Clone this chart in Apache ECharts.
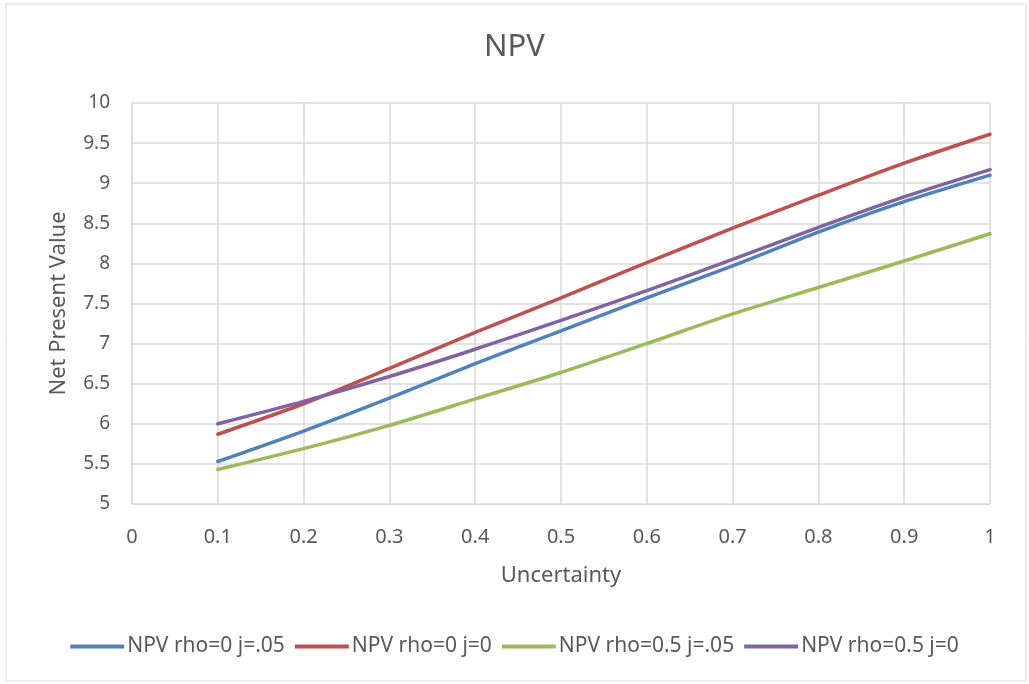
<!DOCTYPE html>
<html>
<head>
<meta charset="utf-8">
<script src="https://cdn.jsdelivr.net/npm/echarts@6/dist/echarts.min.js"></script>
<style>
html,body{margin:0;padding:0;background:#fff;}
#chart{width:1029px;height:684px;}
</style>
</head>
<body>
<div id="chart"></div>
<script>
var uncertainty = [0.1, 0.2, 0.3, 0.4, 0.5, 0.6, 0.7, 0.8, 0.9, 1.0];
var npvRho0J05 = [5.53, 5.91, 6.32, 6.75, 7.16, 7.57, 7.97, 8.39, 8.77, 9.10];
var npvRho0J0 = [5.87, 6.25, 6.69, 7.14, 7.57, 8.01, 8.44, 8.85, 9.25, 9.61];
var npvRho05J05 = [5.43, 5.69, 5.98, 6.31, 6.64, 7.00, 7.37, 7.70, 8.03, 8.37];
var npvRho05J0 = [6.00, 6.28, 6.59, 6.93, 7.29, 7.66, 8.05, 8.45, 8.83, 9.17];
var seriesNames = ['NPV rho=0 j=.05', 'NPV rho=0 j=0', 'NPV rho=0.5 j=.05', 'NPV rho=0.5 j=0'];
var seriesColors = ['#4F81BD', '#C0504D', '#9BBB59', '#8064A2'];
var seriesValues = [npvRho0J05, npvRho0J0, npvRho05J05, npvRho05J0];

var FONT = '"Noto Sans", "Open Sans", sans-serif';
var TXT = '#595959';

var chart = echarts.init(document.getElementById('chart'), null, {renderer: 'canvas'});
var series = seriesNames.map(function (name, i) {
  return {
    name: name,
    type: 'line',
    smooth: 0.25,
    showSymbol: false,
    symbol: 'none',
    lineStyle: {width: 3.5, color: seriesColors[i], cap: 'round'},
    itemStyle: {color: seriesColors[i]},
    data: uncertainty.map(function (x, k) { return [x, seriesValues[i][k]]; })
  };
});

chart.setOption({
  animation: false,
  backgroundColor: '#fff',
  graphic: [{
    type: 'rect',
    shape: {x: 6, y: 4, width: 1020, height: 677},
    style: {fill: 'none', stroke: '#d9d9d9', lineWidth: 1},
    silent: true
  }],
  title: {
    text: 'NPV',
    left: 'center',
    top: 27,
    textStyle: {fontFamily: FONT, fontSize: 31, fontWeight: 'normal', color: TXT}
  },
  legend: {
    bottom: 22,
    left: 'center',
    icon: 'rect',
    itemWidth: 54,
    itemHeight: 4,
    itemGap: 10,
    textStyle: {fontFamily: FONT, fontSize: 21, color: TXT, padding: [0, 0, 0, -2]},
    data: seriesNames
  },
  grid: {left: 132, right: 39, top: 103, bottom: 180, containLabel: false},
  xAxis: {
    type: 'value',
    min: 0, max: 1, interval: 0.1,
    name: 'Uncertainty',
    nameLocation: 'middle',
    nameGap: 61,
    nameTextStyle: {fontFamily: FONT, fontSize: 22, color: TXT},
    axisLine: {show: true, lineStyle: {color: '#d9d9d9', width: 1}},
    axisTick: {show: false},
    axisLabel: {fontFamily: FONT, fontSize: 20, color: TXT, margin: 23,
      formatter: function (v) { return String(Math.round(v * 10) / 10); }},
    splitLine: {show: true, lineStyle: {color: '#d9d9d9', width: 1.5}}
  },
  yAxis: {
    type: 'value',
    min: 5, max: 10, interval: 0.5,
    name: 'Net Present Value',
    nameLocation: 'middle',
    nameGap: 62,
    nameTextStyle: {fontFamily: FONT, fontSize: 22, color: TXT},
    axisLine: {show: true, lineStyle: {color: '#d9d9d9', width: 1}},
    axisTick: {show: false},
    axisLabel: {fontFamily: FONT, fontSize: 19, color: TXT, margin: 22},
    splitLine: {show: true, lineStyle: {color: '#d9d9d9', width: 1.5}}
  },
  series: series
});
</script>
</body>
</html>
